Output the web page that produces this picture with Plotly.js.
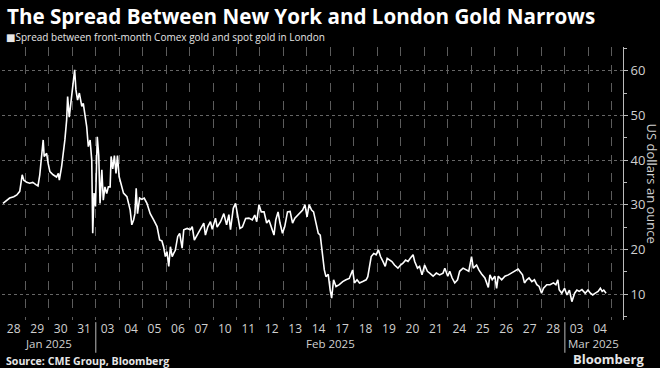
<!DOCTYPE html>
<html><head><meta charset="utf-8">
<script src="https://cdn.plot.ly/plotly-3.0.1.min.js"></script>
<style>html,body{margin:0;padding:0;background:#000;} #chart{width:660px;height:368px;}</style>
</head><body><div id="chart"></div>
<script>
const times = [
'2025-01-28 01:00','2025-01-28 04:50','2025-01-28 07:50','2025-01-28 12:00','2025-01-28 15:10','2025-01-28 18:10','2025-01-28 20:40','2025-01-28 22:20',
'2025-01-29 01:20','2025-01-29 04:20','2025-01-29 07:30','2025-01-29 10:40','2025-01-29 12:50','2025-01-29 14:40','2025-01-29 18:10','2025-01-29 19:10','2025-01-29 21:40','2025-01-29 23:10',
'2025-01-30 01:00','2025-01-30 04:20','2025-01-30 07:50','2025-01-30 09:40','2025-01-30 10:40','2025-01-30 13:00','2025-01-30 14:40','2025-01-30 16:20','2025-01-30 18:10','2025-01-30 19:10','2025-01-30 20:50','2025-01-30 22:20',
'2025-01-31 00:20','2025-01-31 02:20','2025-01-31 03:40','2025-01-31 05:20','2025-01-31 07:10','2025-01-31 09:40','2025-01-31 11:10','2025-01-31 12:50','2025-01-31 14:40','2025-01-31 16:20','2025-01-31 18:10','2025-01-31 19:50','2025-01-31 20:50','2025-01-31 22:10','2025-01-31 23:40',
'2025-02-03 01:30','2025-02-03 03:00','2025-02-03 04:20','2025-02-03 06:10','2025-02-03 07:40','2025-02-03 09:20','2025-02-03 11:10','2025-02-03 12:50','2025-02-03 14:40','2025-02-03 15:40','2025-02-03 17:20','2025-02-03 19:00','2025-02-03 20:40','2025-02-03 22:10','2025-02-03 23:50',
'2025-02-04 00:50','2025-02-04 04:20','2025-02-04 07:50','2025-02-04 09:20','2025-02-04 11:10','2025-02-04 12:50','2025-02-04 14:40','2025-02-04 16:00','2025-02-04 17:20','2025-02-04 18:40','2025-02-04 20:50','2025-02-04 23:10',
'2025-02-05 01:30','2025-02-05 04:20','2025-02-05 07:40','2025-02-05 11:10','2025-02-05 14:40','2025-02-05 17:20','2025-02-05 19:40','2025-02-05 21:20','2025-02-05 23:10',
'2025-02-06 00:50','2025-02-06 02:40','2025-02-06 04:20','2025-02-06 06:10','2025-02-06 07:40','2025-02-06 09:20','2025-02-06 11:50','2025-02-06 13:50','2025-02-06 16:20','2025-02-06 18:00','2025-02-06 21:30',
'2025-02-07 00:50','2025-02-07 02:40','2025-02-07 04:50','2025-02-07 07:40','2025-02-07 11:10','2025-02-07 14:30','2025-02-07 16:10','2025-02-07 18:40','2025-02-07 21:20','2025-02-07 23:10',
'2025-02-10 02:30','2025-02-10 04:10','2025-02-10 07:40','2025-02-10 11:00','2025-02-10 13:50','2025-02-10 16:10','2025-02-10 17:50','2025-02-10 20:40','2025-02-10 23:00',
'2025-02-11 01:20','2025-02-11 03:30','2025-02-11 06:00','2025-02-11 07:40','2025-02-11 09:20','2025-02-11 12:40','2025-02-11 16:10','2025-02-11 18:40','2025-02-11 20:40','2025-02-11 23:00',
'2025-02-12 01:20','2025-02-12 04:10','2025-02-12 06:50','2025-02-12 09:10','2025-02-12 11:40','2025-02-12 14:20','2025-02-12 16:10','2025-02-12 18:30','2025-02-12 20:30','2025-02-12 23:00',
'2025-02-13 01:20','2025-02-13 04:10','2025-02-13 06:50','2025-02-13 09:20','2025-02-13 11:40','2025-02-13 14:30','2025-02-13 17:10','2025-02-13 19:40','2025-02-13 22:00',
'2025-02-14 00:10','2025-02-14 02:20','2025-02-14 04:50','2025-02-14 06:50','2025-02-14 09:10','2025-02-14 11:40','2025-02-14 13:40','2025-02-14 15:10','2025-02-14 16:10','2025-02-14 17:50','2025-02-14 19:30','2025-02-14 21:50','2025-02-14 23:50',
'2025-02-17 01:20','2025-02-17 03:20','2025-02-17 05:50','2025-02-17 09:10','2025-02-17 12:40','2025-02-17 16:00','2025-02-17 19:20','2025-02-17 22:50',
'2025-02-18 00:40','2025-02-18 03:20','2025-02-18 05:50','2025-02-18 09:10','2025-02-18 12:40','2025-02-18 14:20','2025-02-18 16:00','2025-02-18 17:50','2025-02-18 20:30','2025-02-18 22:50',
'2025-02-19 01:10','2025-02-19 03:20','2025-02-19 05:50','2025-02-19 08:10','2025-02-19 10:10','2025-02-19 12:30','2025-02-19 15:00','2025-02-19 17:40','2025-02-19 21:10','2025-02-19 23:50',
'2025-02-20 02:20','2025-02-20 05:00','2025-02-20 07:30','2025-02-20 09:50','2025-02-20 12:40','2025-02-20 14:20','2025-02-20 17:10','2025-02-20 19:20','2025-02-20 21:50',
'2025-02-21 00:30','2025-02-21 03:20','2025-02-21 05:40','2025-02-21 09:10','2025-02-21 12:30','2025-02-21 15:50','2025-02-21 19:20','2025-02-21 21:10',
'2025-02-24 00:10','2025-02-24 02:10','2025-02-24 04:40','2025-02-24 07:20','2025-02-24 10:10','2025-02-24 12:20','2025-02-24 15:50','2025-02-24 19:20','2025-02-24 21:40',
'2025-02-25 00:30','2025-02-25 02:20','2025-02-25 05:40','2025-02-25 08:00','2025-02-25 10:50','2025-02-25 14:10','2025-02-25 17:40','2025-02-25 19:20','2025-02-25 21:40',
'2025-02-26 00:20','2025-02-26 02:10','2025-02-26 03:50','2025-02-26 07:20','2025-02-26 10:40','2025-02-26 14:10','2025-02-26 17:40','2025-02-26 20:20',
'2025-02-27 00:10','2025-02-27 01:50','2025-02-27 04:40','2025-02-27 06:40','2025-02-27 09:00','2025-02-27 11:20','2025-02-27 14:10','2025-02-27 16:50','2025-02-27 19:20','2025-02-27 21:40',
'2025-02-28 00:10','2025-02-28 02:10','2025-02-28 05:30','2025-02-28 08:50','2025-02-28 12:20','2025-02-28 14:50','2025-02-28 16:50','2025-02-28 18:10','2025-02-28 20:50','2025-02-28 23:40',
'2025-03-03 02:10','2025-03-03 04:40','2025-03-03 07:10','2025-03-03 10:00','2025-03-03 12:20','2025-03-03 14:40','2025-03-03 17:30','2025-03-03 20:50','2025-03-03 23:40',
'2025-03-04 02:10','2025-03-04 04:30','2025-03-04 07:10','2025-03-04 10:00','2025-03-04 12:20','2025-03-04 14:10','2025-03-04 15:50','2025-03-04 18:10'
];
const spread = [
30.3,31,31.5,31.8,32.2,33,36.7,35.5,
35,34.8,35,34.5,34.2,36.7,44.5,40.8,41.5,39.3,
37.4,36.7,36.2,37,35.5,38.5,41,44.5,49,54.2,49.6,52.7,
57.2,60.2,55.7,53.4,55,52,52.7,50.5,47.5,43,44.5,40,23.6,32.6,29.6,
45.2,41,30.3,37.8,31,34,32.5,34,34,40.8,38,41,37,41,36.3,
35.5,32.6,31.8,30.7,28.8,25.5,26.6,28,33.7,28,31.5,31.2,
31.5,30.3,28,26.6,25.1,22.1,21.9,20.6,18.4,
19.5,16.2,20.6,18.4,19.1,19.8,22.9,23.6,20.3,24.4,24.7,
24.4,25.1,22.1,23.2,24.7,25.9,23.2,25.1,26.2,24.5,
27,25,26.2,28,25.5,27.8,24.4,29.2,30.3,
27.4,24.7,25,26.2,26.9,27,26.6,27.7,26.2,30,
28.4,28.4,25.9,26.6,25.1,23.2,26.6,28.4,25.9,23.6,
25.1,28.4,28.5,25.9,27,27.7,28.4,28.8,30,
27.3,30,28.8,28.4,25.9,23.6,23.2,20.6,18.4,15.4,13.9,14.4,10.9,
9.1,13.2,11.7,12.1,12.8,13.2,13.5,15.4,
12.5,13.2,12.5,12.8,13.2,13.9,16.2,18.4,19.1,18.8,
19.9,18.4,17.3,16.2,18,17.6,17.3,16.5,15.8,16.5,
16.9,17.6,17.3,18,18.8,17.3,15.8,16.2,14.3,
16.5,15.1,14.7,14,14.7,14.3,14.7,15.8,
14,15.1,13.6,12.5,13.2,15.1,15.8,15.4,15.1,
18.4,15.8,16.5,15.4,14.5,13.6,11.5,14.3,13.2,
14,11.3,14,13.2,14,14.3,14.7,15.1,
15.6,15.1,14.3,12.5,13.2,13.6,12.8,13.2,12.1,11.7,
10.2,11.3,12.1,12.1,12.5,12.1,13.2,11,10.2,11.3,
9.8,10.9,8.3,10.2,10.9,10.6,11,10.2,10.9,
10.2,9.8,10.2,10.6,11.3,10.6,10.9,10.2
];
const seriesName = 'Spread between front-month Comex gold and spot gold in London';
const yTicks = [10,20,30,40,50,60];
const monthLabels = ['Jan 2025','Feb 2025','Mar 2025'];
const monthLabelDates = ['2025-01-30','2025-02-17','2025-03-03'];
const monthBreaks = ['2025-02-03','2025-03-03'];

const FONT = 'Open Sans, DejaVu Sans, sans-serif';
const annotations = [
  {text:'<b>The Spread Between New York and London Gold Narrows</b>', xref:'paper', yref:'paper', x:0.005, y:1.1136, xanchor:'left', yanchor:'middle', showarrow:false, font:{family:FONT, size:20.6, color:'#ffffff'}},
  {text:'\u25A0' + seriesName, xref:'paper', yref:'paper', x:0.004, y:1.0366, xanchor:'left', yanchor:'middle', showarrow:false, font:{family:FONT, size:10, color:'#e6e6e6'}},
  {text:'<b>Source: CME Group, Bloomberg</b>', xref:'paper', yref:'paper', x:0.004, y:-0.152, xanchor:'left', yanchor:'middle', showarrow:false, font:{family:FONT, size:10.6, color:'#e6e6e6'}},
  {text:'<b>Bloomberg</b>', xref:'paper', yref:'paper', x:1.037, y:-0.142, xanchor:'right', yanchor:'middle', showarrow:false, font:{family:FONT, size:13, color:'#e6e6e6'}},
  {text:'US dollars an ounce', xref:'paper', yref:'paper', x:1.0467, y:0.50, xanchor:'center', yanchor:'middle', textangle:90, showarrow:false, font:{family:FONT, size:13, color:'#d0d0d0'}}
];
monthLabels.forEach((m,i)=>{
  const last = i===monthLabels.length-1;
  annotations.push({text:m, xref:'x', yref:'paper', x:monthLabelDates[i], y:-0.086, xanchor: last ? 'left':'center', xshift: last ? 1:0, yanchor:'middle', showarrow:false, font:{family:FONT, size:11.5, color:'#d0d0d0'}});
});
const shapes = monthBreaks.map(d=>({type:'line', xref:'x', yref:'paper', x0:d, x1:d, y0:-0.008, y1:-0.12, line:{color:'#bbbbbb', width:1}}));

const trace = {x:times, y:spread, type:'scatter', mode:'lines', name:seriesName, line:{color:'#ffffff', width:1.6}, hoverinfo:'skip', showlegend:false};

const layout = {
  width:660, height:368,
  paper_bgcolor:'#000000', plot_bgcolor:'#000000',
  margin:{l:2, r:37, t:47, b:48},
  font:{family:FONT, color:'#d0d0d0'},
  showlegend:false,
  xaxis:{type:'date', range:['2025-01-28 00:00','2025-03-05 11:30'], rangebreaks:[{bounds:['sat','mon']}],
    tick0:'2025-01-28', dtick:86400000, tickformat:'%d', ticklabelmode:'period',
    showgrid:true, gridcolor:'#5c5c5c', griddash:'dash', gridwidth:1,
    ticks:'', showline:false, zeroline:false,
    tickfont:{family:FONT, size:12, color:'#d0d0d0'}},
  yaxis:{side:'right', range:[4.2,65.3], tickmode:'array', tickvals:yTicks, ticktext:yTicks.map(String),
    ticks:'outside', ticklen:4, tickcolor:'#bbbbbb', showline:true, linecolor:'#bbbbbb', linewidth:1,
    showgrid:true, gridcolor:'#666666', griddash:'dot', gridwidth:1, zeroline:false,
    tickfont:{family:FONT, size:13, color:'#d0d0d0'},
    minor:{tickmode:'linear', tick0:0, dtick:5, ticks:'outside', ticklen:3, tickcolor:'#bbbbbb', showgrid:false}},
  annotations:annotations,
  shapes:shapes
};
Plotly.newPlot('chart', [trace], layout, {staticPlot:true, displayModeBar:false});
</script>
</body></html>
